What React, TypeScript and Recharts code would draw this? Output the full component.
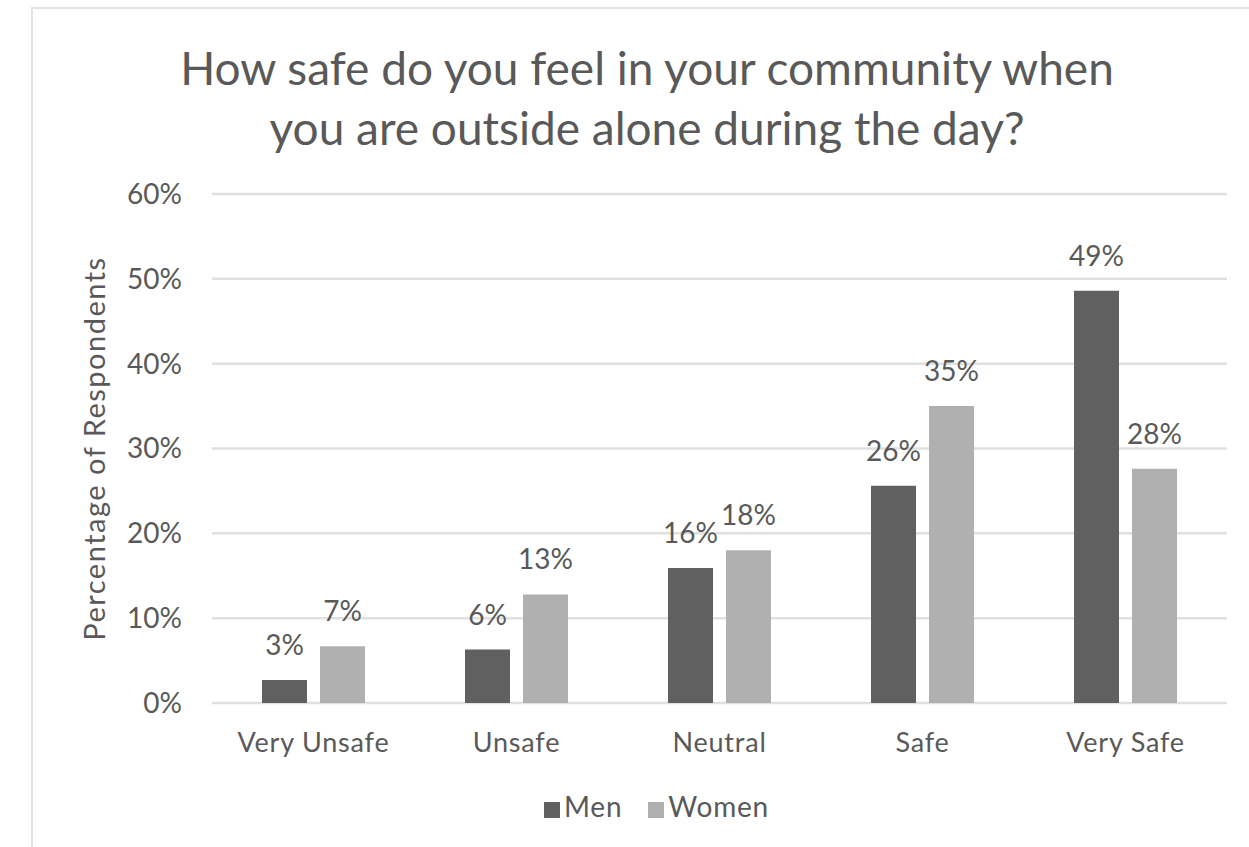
import { Bar, BarChart, CartesianGrid, LabelList, Legend, XAxis, YAxis } from "recharts";

const categories = ["Very Unsafe", "Unsafe", "Neutral", "Safe", "Very Safe"];
const men = [2.7, 6.3, 15.9, 25.6, 48.6];
const women = [6.7, 12.8, 18.0, 35.0, 27.6];
const yTicks = [0, 10, 20, 30, 40, 50, 60];

const data = categories.map((c, i) => ({ name: c, men: men[i], women: women[i] }));

const FONT = "Lato, 'Open Sans', sans-serif";
const TEXT = "#595959";

export default function App() {
  return (
    <div
      style={{
        position: "absolute",
        left: 0,
        top: 0,
        width: 1249,
        height: 847,
        overflow: "hidden",
        background: "#fff",
        fontFamily: FONT,
      }}
    >
      <div
        style={{
          position: "absolute",
          left: 31,
          top: 7,
          width: 1300,
          height: 900,
          border: "2px solid #e3e3e3",
        }}
      />
      <div
        style={{
          position: "absolute",
          left: 32,
          top: 38,
          width: 1230,
          textAlign: "center",
          fontSize: 46,
          lineHeight: "60px",
          color: TEXT,
        }}
      >
        How safe do you feel in your community when
        <br />
        you are outside alone during the day?
      </div>
      <div style={{ position: "absolute", left: 0, top: 0 }}>
        <BarChart
          width={1249}
          height={847}
          data={data}
          margin={{ top: 194, right: 22, bottom: 24, left: 112 }}
          barCategoryGap={50}
          barGap={13}
        >
          <CartesianGrid vertical={false} stroke="#e0e0e0" strokeWidth={2.5} />
          <XAxis
            dataKey="name"
            tickLine={false}
            axisLine={false}
            tickMargin={24}
            height={86}
            tick={{ fontSize: 27, fill: TEXT, fontFamily: FONT, letterSpacing: 0.8 }}
          />
          <YAxis
            width={100}
            domain={[0, 60]}
            ticks={yTicks}
            tickFormatter={(v) => `${v}%`}
            tickLine={false}
            axisLine={false}
            tickSize={0}
            tickMargin={30}
            tick={{ fontSize: 28, fill: TEXT, fontFamily: FONT }}
            label={{
              value: "Percentage of Respondents",
              angle: -90,
              position: "insideLeft",
              dx: -22,
              style: { fontSize: 29, fill: TEXT, fontFamily: FONT, letterSpacing: 1.5, textAnchor: "middle" },
            }}
          />
          <Legend
            verticalAlign="bottom"
            iconType="square"
            iconSize={16}
            wrapperStyle={{ fontSize: 28, fontFamily: FONT, letterSpacing: 0.8 }}
            formatter={(v) => <span style={{ color: TEXT, marginRight: 16 }}>{v}</span>}
          />
          <Bar dataKey="men" name="Men" fill="#606060" barSize={45} isAnimationActive={false}>
            <LabelList
              dataKey="men"
              position="top"
              offset={25}
              formatter={(v: number) => `${Math.round(v)}%`}
              style={{ fontSize: 28, fill: TEXT, fontFamily: FONT }}
            />
          </Bar>
          <Bar dataKey="women" name="Women" fill="#b0b0b0" barSize={45} isAnimationActive={false}>
            <LabelList
              dataKey="women"
              position="top"
              offset={25}
              formatter={(v: number) => `${Math.round(v)}%`}
              style={{ fontSize: 28, fill: TEXT, fontFamily: FONT }}
            />
          </Bar>
        </BarChart>
      </div>
    </div>
  );
}
